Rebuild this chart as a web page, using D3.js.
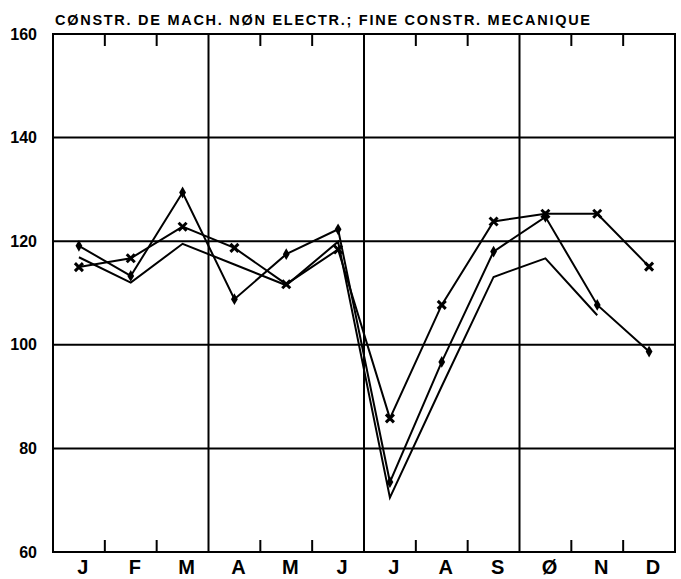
<!DOCTYPE html>
<html>
<head>
<meta charset="utf-8">
<script src="https://cdn.jsdelivr.net/npm/d3@7"></script>
<style>
  body { margin: 0; background: #fff; }
  svg { display: block; }
</style>
</head>
<body>
<div id="chart"></div>
<script>
// chart values
var titleText = "CØNSTR. DE MACH. NØN ELECTR.; FINE CONSTR. MECANIQUE";
var months = ["J", "F", "M", "A", "M", "J", "J", "A", "S", "Ø", "N", "D"];
var yTicks = [60, 80, 100, 120, 140, 160];
var seriesDiamond = [119.1, 113.3, 129.4, 108.8, 117.5, 122.3, 73.5, 96.7, 118.0, 124.7, 107.7, 98.7];
var seriesCross = [115.0, 116.7, 122.8, 118.7, 111.7, 118.4, 85.8, 107.7, 123.8, 125.3, 125.3, 115.1];
var seriesPlain = [116.9, 112.0, 119.5, 115.5, 111.5, 119.9, 70.5, 92.0, 113.1, 116.7, 105.7, null];

// plot box ("top" is taken by window.top, so prefixed names)
var W = 681, H = 579,
    plotL = 53, plotR = 675, plotT = 34, plotB = 552;

var svg = d3.select("#chart").append("svg")
    .attr("width", W)
    .attr("height", H);

var x = d3.scaleLinear().domain([0, 12]).range([plotL, plotR]);
var y = d3.scaleLinear().domain([60, 160]).range([plotB, plotT]);

// title
svg.append("text")
    .attr("x", 55)
    .attr("y", 25)
    .attr("textLength", 535)
    .attr("lengthAdjust", "spacing")
    .style("font-family", "'Liberation Sans Narrow', 'Liberation Sans', sans-serif")
    .style("font-weight", "bold")
    .style("font-size", "14.5px")
    .text(titleText);

var grid = svg.append("g")
    .attr("stroke", "#000")
    .attr("stroke-width", 2)
    .attr("fill", "none");

// horizontal grid lines
grid.selectAll("line.h")
    .data(yTicks.slice(1, -1))
    .enter().append("line")
    .attr("class", "h")
    .attr("x1", plotL)
    .attr("x2", plotR)
    .attr("y1", function(d) { return y(d); })
    .attr("y2", function(d) { return y(d); });

// quarter lines
grid.selectAll("line.v")
    .data([3, 6, 9])
    .enter().append("line")
    .attr("class", "v")
    .attr("x1", function(d) { return x(d); })
    .attr("x2", function(d) { return x(d); })
    .attr("y1", plotT)
    .attr("y2", plotB);

// month ticks, top and bottom
var tickMonths = [1, 2, 4, 5, 7, 8, 10, 11];
grid.selectAll("line.tt")
    .data(tickMonths)
    .enter().append("line")
    .attr("class", "tt")
    .attr("x1", function(d) { return x(d); })
    .attr("x2", function(d) { return x(d); })
    .attr("y1", plotT)
    .attr("y2", plotT + 12);
grid.selectAll("line.tb")
    .data(tickMonths)
    .enter().append("line")
    .attr("class", "tb")
    .attr("x1", function(d) { return x(d); })
    .attr("x2", function(d) { return x(d); })
    .attr("y1", plotB)
    .attr("y2", plotB - 12);

// frame
grid.append("rect")
    .attr("x", plotL)
    .attr("y", plotT)
    .attr("width", plotR - plotL)
    .attr("height", plotB - plotT);

// y labels
var yAxis = svg.append("g")
    .attr("transform", "translate(" + plotL + ",0)")
    .call(d3.axisLeft(y).tickValues(yTicks).tickSize(0).tickPadding(16).tickFormat(d3.format("d")));
yAxis.select(".domain").remove();
yAxis.selectAll("text")
    .style("font-family", "'Liberation Sans', Arial, sans-serif")
    .style("font-weight", "bold")
    .style("font-size", "16px")
    .attr("fill", "#000");

// month labels
var xm = d3.scaleBand().domain(d3.range(12)).range([plotL, plotR]);
var xAxis = svg.append("g")
    .attr("transform", "translate(4," + plotB + ")")
    .call(d3.axisBottom(xm).tickSize(0).tickPadding(8).tickFormat(function(i) { return months[i]; }));
xAxis.select(".domain").remove();
xAxis.selectAll("text")
    .style("font-family", "'Liberation Sans Narrow', 'Liberation Sans', sans-serif")
    .style("font-weight", "bold")
    .style("font-size", "20px")
    .attr("fill", "#000");

// series lines
var line = d3.line()
    .defined(function(d) { return d != null; })
    .x(function(d, i) { return x(i + 0.5); })
    .y(function(d) { return y(d); });

[seriesPlain, seriesDiamond, seriesCross].forEach(function(s) {
    svg.append("path")
        .datum(s)
        .attr("d", line)
        .attr("fill", "none")
        .attr("stroke", "#000")
        .attr("stroke-width", 2)
        .attr("stroke-linejoin", "miter");
});

// diamond markers
svg.selectAll("path.dia")
    .data(seriesDiamond)
    .enter().append("path")
    .attr("class", "dia")
    .attr("transform", function(d, i) { return "translate(" + x(i + 0.5) + "," + y(d) + ")"; })
    .attr("d", d3.symbol().type(d3.symbolDiamond).size(40))
    .attr("fill", "#000");

// cross markers
svg.selectAll("path.crs")
    .data(seriesCross)
    .enter().append("path")
    .attr("class", "crs")
    .attr("transform", function(d, i) { return "translate(" + x(i + 0.5) + "," + y(d) + ")"; })
    .attr("d", "M-4,-4L4,4M-4,4L4,-4")
    .attr("stroke", "#000")
    .attr("stroke-width", 3)
    .attr("fill", "none");
</script>
</body>
</html>
